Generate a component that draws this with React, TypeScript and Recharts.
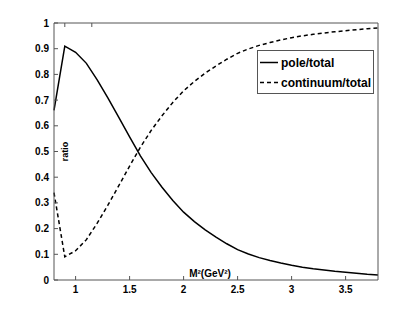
import React from "react";
import { LineChart, Line, XAxis, YAxis, Legend } from "recharts";

// M^2 values (GeV^2)
const massSq = [
  0.8, 0.9, 1.0, 1.1, 1.2, 1.3, 1.4, 1.5, 1.6, 1.7, 1.8, 1.9, 2.0, 2.1, 2.2, 2.3,
  2.4, 2.5, 2.6, 2.7, 2.8, 2.9, 3.0, 3.1, 3.2, 3.3, 3.4, 3.5, 3.6, 3.7, 3.8,
];

const poleTotal = [
  0.66, 0.91, 0.886, 0.843, 0.779, 0.708, 0.633, 0.557, 0.483, 0.418, 0.361,
  0.309, 0.264, 0.227, 0.195, 0.167, 0.141, 0.118, 0.101, 0.087, 0.076, 0.066,
  0.057, 0.05, 0.044, 0.039, 0.034, 0.03, 0.026, 0.022, 0.019,
];

const continuumTotal = [
  0.34, 0.09, 0.114, 0.157, 0.221, 0.292, 0.367, 0.443, 0.517, 0.582, 0.639,
  0.691, 0.736, 0.773, 0.805, 0.833, 0.859, 0.882, 0.899, 0.913, 0.924, 0.934,
  0.943, 0.95, 0.956, 0.961, 0.966, 0.97, 0.974, 0.978, 0.981,
];

const xTicks = [1, 1.5, 2, 2.5, 3, 3.5];
const yTicks = [0, 0.1, 0.2, 0.3, 0.4, 0.5, 0.6, 0.7, 0.8, 0.9, 1];

const seriesNames = ["pole/total", "continuum/total"];

const data = massSq.map((m, i) => ({
  m,
  pole: poleTotal[i],
  continuum: continuumTotal[i],
}));

const FONT = "'Liberation Sans', Arial, Helvetica, sans-serif";
const AXIS = "#555";

// ticks point into the plot box, like matlab
const LeftTick = (props: any) => {
  const { x, y, payload } = props;
  return (
    <g>
      <line x1={x} x2={x + 4} y1={y} y2={y} stroke={AXIS} />
      <text x={x - 5} y={y} dy={3.5} textAnchor="end" fontSize={10} fontWeight="bold" fontFamily={FONT} fill="#000">
        {payload.value}
      </text>
    </g>
  );
};

const BottomTick = (props: any) => {
  const { x, y, payload } = props;
  return (
    <g>
      <line x1={x} x2={x} y1={y} y2={y - 4} stroke={AXIS} />
      <text x={x} y={y + 13} textAnchor="middle" fontSize={10} fontWeight="bold" fontFamily={FONT} fill="#000">
        {payload.value}
      </text>
    </g>
  );
};

const TopTick = (props: any) => {
  const { x, y } = props;
  return <line x1={x} x2={x} y1={y} y2={y + 4} stroke={AXIS} />;
};

const RightTick = (props: any) => {
  const { x, y } = props;
  return <line x1={x} x2={x - 4} y1={y} y2={y} stroke={AXIS} />;
};

const RatioLabel = (props: any) => {
  const vb = props.viewBox;
  const x = vb.x + vb.width + 14;
  const y = vb.y + vb.height / 2;
  return (
    <text x={x} y={y} transform={`rotate(-90 ${x} ${y})`} textAnchor="middle" fontSize={9} fontWeight="bold" fontFamily={FONT} fill="#000">
      ratio
    </text>
  );
};

const MassLabel = (props: any) => {
  const vb = props.viewBox;
  return (
    <text x={vb.x + 156} y={vb.y - 3} textAnchor="middle" fontSize={10} fontWeight="bold" fontFamily={FONT} fill="#000">
      M²(GeV²)
    </text>
  );
};

const renderLegend = () => (
  <svg width={117} height={44} style={{ display: "block" }}>
    <rect x={0.5} y={0.5} width={116} height={43} fill="#fff" stroke={AXIS} />
    <line x1={3} x2={21} y1={12.5} y2={12.5} stroke="#000" strokeWidth={1.5} />
    <text x={24} y={16.5} fontSize={12} fontWeight="bold" fontFamily={FONT} fill="#000">
      {seriesNames[0]}
    </text>
    <line x1={3} x2={21} y1={32.5} y2={32.5} stroke="#000" strokeWidth={1.5} strokeDasharray="4 3" />
    <text x={24} y={36.5} fontSize={12} fontWeight="bold" fontFamily={FONT} fill="#000">
      {seriesNames[1]}
    </text>
  </svg>
);

export default function App() {
  return (
    <div style={{ position: "absolute", left: 0, top: 0, width: 417, height: 316, background: "#fff" }}>
      <LineChart
        width={417}
        height={316}
        data={data}
        margin={{ top: 13, right: 29, bottom: 16, left: 24 }}
        style={{ fontFamily: FONT }}
      >
        <XAxis
          dataKey="m"
          type="number"
          domain={[0.8, 3.8]}
          ticks={xTicks}
          height={20}
          stroke={AXIS}
          tickSize={0}
          tickMargin={0}
          tickLine={false}
          tick={BottomTick}
          label={MassLabel}
        />
        <XAxis
          xAxisId="top"
          orientation="top"
          type="number"
          domain={[0.8, 3.8]}
          ticks={xTicks}
          height={10}
          stroke={AXIS}
          tickSize={0}
          tickMargin={0}
          tickLine={false}
          tick={TopTick}
        />
        <YAxis
          type="number"
          domain={[0, 1]}
          ticks={yTicks}
          width={30}
          stroke={AXIS}
          tickSize={0}
          tickMargin={0}
          tickLine={false}
          tick={LeftTick}
          label={RatioLabel}
        />
        <YAxis
          yAxisId="right"
          orientation="right"
          type="number"
          domain={[0, 1]}
          ticks={yTicks}
          width={10}
          stroke={AXIS}
          tickSize={0}
          tickMargin={0}
          tickLine={false}
          tick={RightTick}
        />
        <Legend
          layout="vertical"
          align="center"
          verticalAlign="middle"
          content={renderLegend}
          wrapperStyle={{ left: 257, top: 50, width: 117, height: 44 }}
        />
        <Line
          type="linear"
          dataKey="pole"
          name={seriesNames[0]}
          stroke="#000"
          strokeWidth={1.5}
          dot={false}
          isAnimationActive={false}
        />
        <Line
          type="linear"
          dataKey="continuum"
          name={seriesNames[1]}
          stroke="#000"
          strokeWidth={1.5}
          strokeDasharray="4 3"
          dot={false}
          isAnimationActive={false}
        />
      </LineChart>
    </div>
  );
}
